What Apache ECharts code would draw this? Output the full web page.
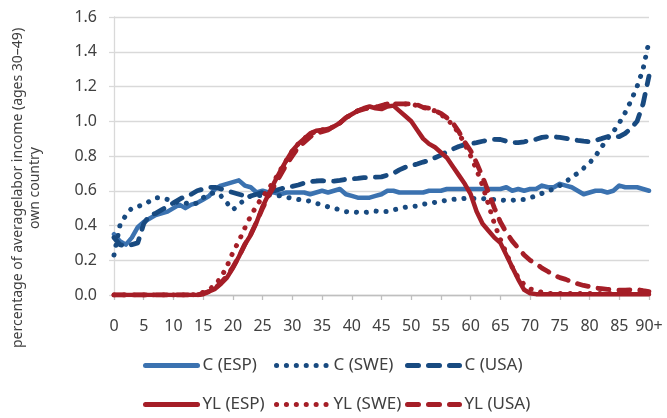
<!DOCTYPE html>
<html><head><meta charset="utf-8">
<script src="https://cdn.jsdelivr.net/npm/echarts@6/dist/echarts.min.js"></script>
<style>html,body{margin:0;padding:0;background:#fff}#c{width:667px;height:418px}</style>
</head><body><div id="c"></div>
<script>
const ages = ['0','1','2','3','4','5','6','7','8','9','10','11','12','13','14','15','16','17','18','19',
'20','21','22','23','24','25','26','27','28','29','30','31','32','33','34','35','36','37','38','39',
'40','41','42','43','44','45','46','47','48','49','50','51','52','53','54','55','56','57','58','59',
'60','61','62','63','64','65','66','67','68','69','70','71','72','73','74','75','76','77','78','79',
'80','81','82','83','84','85','86','87','88','89','90+'];

const cESP = [0.35,0.31,0.29,0.33,0.39,0.42,0.44,0.46,0.47,0.48,
0.50,0.52,0.50,0.52,0.53,0.55,0.57,0.61,0.63,0.64,
0.65,0.66,0.63,0.62,0.59,0.60,0.59,0.59,0.58,0.59,
0.59,0.59,0.59,0.58,0.59,0.60,0.59,0.60,0.61,0.58,
0.57,0.56,0.56,0.56,0.57,0.58,0.60,0.60,0.59,0.59,
0.59,0.59,0.59,0.60,0.60,0.60,0.61,0.61,0.61,0.61,
0.61,0.61,0.61,0.61,0.61,0.61,0.62,0.60,0.61,0.60,
0.61,0.61,0.63,0.62,0.62,0.64,0.63,0.62,0.60,0.58,
0.59,0.60,0.60,0.59,0.60,0.63,0.62,0.62,0.62,0.61,
0.60];

const cSWE = [0.23,0.40,0.46,0.50,0.51,0.52,0.54,0.56,0.56,0.55,
0.54,0.53,0.53,0.52,0.53,0.56,0.58,0.59,0.57,0.53,
0.49,0.52,0.55,0.57,0.57,0.575,0.576,0.575,0.57,0.563,
0.556,0.55,0.545,0.54,0.527,0.52,0.508,0.50,0.49,0.48,
0.478,0.476,0.476,0.477,0.483,0.48,0.48,0.49,0.497,0.505,
0.51,0.512,0.522,0.528,0.533,0.54,0.545,0.55,0.552,0.556,
0.556,0.556,0.555,0.55,0.55,0.547,0.545,0.545,0.55,0.55,
0.56,0.57,0.585,0.60,0.61,0.63,0.65,0.68,0.70,0.73,
0.76,0.80,0.85,0.90,0.94,0.99,1.05,1.12,1.20,1.30,
1.46];

const cUSA = [0.33,0.29,0.28,0.29,0.30,0.41,0.46,0.47,0.49,0.51,
0.53,0.55,0.57,0.58,0.60,0.61,0.62,0.62,0.61,0.60,
0.59,0.58,0.57,0.57,0.58,0.59,0.595,0.60,0.61,0.62,
0.625,0.633,0.645,0.652,0.656,0.658,0.655,0.655,0.66,0.666,
0.668,0.671,0.675,0.677,0.678,0.68,0.69,0.70,0.72,0.735,
0.745,0.754,0.765,0.775,0.79,0.805,0.825,0.84,0.855,0.865,
0.87,0.877,0.885,0.892,0.896,0.895,0.885,0.877,0.877,0.882,
0.89,0.896,0.907,0.911,0.911,0.907,0.902,0.896,0.89,0.885,
0.882,0.89,0.90,0.911,0.915,0.911,0.93,0.96,1.00,1.10,
1.26];

const ylESP = [0,0,0,0,0,0,0,0,0,0,
0,0,0,0,0,0.01,0.02,0.035,0.065,0.10,
0.155,0.22,0.29,0.345,0.42,0.51,0.58,0.65,0.715,0.775,
0.83,0.87,0.90,0.93,0.945,0.95,0.955,0.97,0.99,1.02,
1.04,1.06,1.075,1.085,1.075,1.07,1.085,1.09,1.06,1.03,
1.00,0.95,0.90,0.87,0.85,0.82,0.79,0.74,0.69,0.64,
0.58,0.48,0.41,0.37,0.33,0.30,0.23,0.16,0.09,0.03,
0.01,0.005,0.005,0.005,0.005,0.005,0.005,0.005,0.005,0.005,
0.005,0.005,0.005,0.005,0.005,0.005,0.005,0.005,0.005,0.005,
0.005];

const ylSWE = [0,0,0,0,0,0,0,0,0,0,
0,0,0,0,0.005,0.015,0.03,0.06,0.10,0.165,
0.245,0.31,0.385,0.455,0.515,0.565,0.61,0.66,0.72,0.775,
0.83,0.87,0.90,0.93,0.94,0.95,0.955,0.97,0.99,1.02,
1.04,1.06,1.07,1.08,1.08,1.09,1.10,1.10,1.10,1.10,
1.10,1.09,1.08,1.07,1.06,1.04,1.01,0.98,0.93,0.87,
0.80,0.72,0.63,0.52,0.41,0.32,0.24,0.16,0.10,0.06,
0.035,0.025,0.015,0.01,0.008,0.008,0.008,0.008,0.008,0.008,
0.008,0.008,0.008,0.008,0.008,0.008,0.008,0.008,0.008,0.008,
0.008];

const ylUSA = [0,0,0,0,0,0,0,0,0,0,
0,0,0,0,0,0.005,0.02,0.04,0.07,0.11,
0.16,0.22,0.29,0.35,0.42,0.50,0.57,0.63,0.69,0.75,
0.80,0.85,0.88,0.91,0.93,0.94,0.95,0.97,0.99,1.02,
1.04,1.06,1.07,1.08,1.08,1.09,1.10,1.10,1.10,1.10,
1.10,1.095,1.08,1.075,1.06,1.045,1.02,0.99,0.94,0.88,
0.83,0.76,0.68,0.59,0.50,0.42,0.36,0.31,0.27,0.23,
0.20,0.18,0.155,0.135,0.115,0.10,0.09,0.075,0.065,0.055,
0.048,0.04,0.037,0.033,0.03,0.028,0.028,0.03,0.032,0.025,
0.02];

const yTicks = [0,0.2,0.4,0.6,0.8,1.0,1.2,1.4,1.6];
const axisTitle = 'percentage of averagelabor income (ages 30\u201349)\nown country';

const FONT = '"Noto Sans", sans-serif';
const TXT = '#404040';
const blueL = '#3b72b0', navy = '#184a80', red = '#a51e27';
const solid = c => ({color:c, width:4.5, type:'solid', cap:'round', join:'round'});
const dotted = c => ({color:c, width:5, type:[0.1,9.8], cap:'round', join:'round'});
const dashed = c => ({color:c, width:4.8, type:[11,10], cap:'round', join:'round'});
function mk(name, data, ls){
  return {name, type:'line', data, symbol:'none', showSymbol:false, smooth:false,
    lineStyle:ls, itemStyle:{color:ls.color}, emphasis:{disabled:true}, animation:false};
}
function lg(name, left, top){
  return {data:[name], left, top, itemWidth:52, itemHeight:14, padding:0,
    itemStyle:{color:'rgba(0,0,0,0)', borderWidth:0, opacity:0},
    lineStyle:{width:5, cap:'round'},
    textStyle:{fontFamily:FONT, fontSize:17, color:TXT}, selectedMode:false};
}

const chart = echarts.init(document.getElementById('c'));
chart.setOption({
  animation:false,
  backgroundColor:'#fff',
  grid:{left:114, right:18, top:17, bottom:123},
  legend:[
    lg('C (ESP)',143,357), lg('C (SWE)',274,357), lg('C (USA)',405,357),
    lg('YL (ESP)',143,396), lg('YL (SWE)',274,396), lg('YL (USA)',405,396)
  ],
  xAxis:{type:'category', data:ages, boundaryGap:false,
    axisLine:{lineStyle:{color:'#bfbfbf', width:1.3}},
    axisTick:{interval:4, length:5, lineStyle:{color:'#bfbfbf', width:1.3}},
    axisLabel:{interval:4, margin:23, fontFamily:FONT, fontSize:16, color:TXT},
    splitLine:{show:false}},
  yAxis:{type:'value', min:yTicks[0], max:yTicks[yTicks.length-1], interval:0.2,
    axisLine:{show:true, lineStyle:{color:'#d9d9d9', width:1.3}},
    axisTick:{show:true, length:5, lineStyle:{color:'#d9d9d9', width:1.3}},
    axisLabel:{formatter:v=>v.toFixed(1), margin:17, fontFamily:FONT, fontSize:16, color:TXT},
    splitLine:{lineStyle:{color:'#d9d9d9', width:1.3}}},
  graphic:[{type:'text', x:27, y:188, rotation:Math.PI/2,
    style:{text:axisTitle, fontFamily:FONT, fontSize:14, fill:TXT,
      align:'center', verticalAlign:'middle', textAlign:'center', textVerticalAlign:'middle', lineHeight:17}}],
  series:[
    mk('C (ESP)', cESP, solid(blueL)),
    mk('C (SWE)', cSWE, dotted(navy)),
    mk('C (USA)', cUSA, dashed(navy)),
    mk('YL (ESP)', ylESP, solid(red)),
    mk('YL (SWE)', ylSWE, dotted(red)),
    mk('YL (USA)', ylUSA, dashed(red))
  ]
});
</script></body></html>
